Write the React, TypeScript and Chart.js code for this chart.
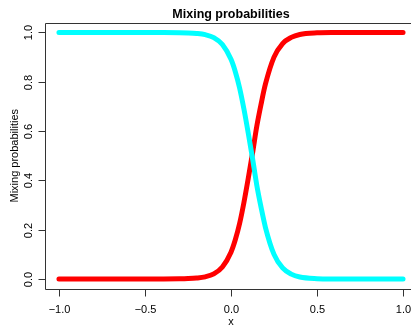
import React, { useEffect, useRef } from "react";
import { Chart, registerables } from "chart.js";

Chart.register(...registerables);

const xs = [-1, -0.8, -0.6, -0.5, -0.4, -0.3, -0.25, -0.2, -0.15, -0.1, -0.05, 0, 0.025, 0.05, 0.075, 0.1, 0.125, 0.15, 0.175, 0.2, 0.25, 0.3, 0.35, 0.4, 0.5, 0.6, 0.8, 1.0];
const redValues = [0, 0, 0, 0, 0.0001, 0.0007, 0.0017, 0.004, 0.009, 0.021, 0.049, 0.109, 0.159, 0.225, 0.31, 0.407, 0.51, 0.62, 0.71, 0.79, 0.9, 0.955, 0.98, 0.992, 0.9985, 0.9997, 1, 1];
const cyanValues = [1, 1, 1, 1, 0.9999, 0.9993, 0.9983, 0.996, 0.991, 0.979, 0.951, 0.891, 0.841, 0.775, 0.69, 0.593, 0.49, 0.38, 0.29, 0.21, 0.1, 0.045, 0.02, 0.008, 0.0015, 0.0003, 0, 0];
const xTicks = [-1, -0.5, 0, 0.5, 1];
const xTickLabels = ["\u22121.0", "\u22120.5", "0.0", "0.5", "1.0"];
const yTicks = [0, 0.2, 0.4, 0.6, 0.8, 1];
const yTickLabels = ["0.0", "0.2", "0.4", "0.6", "0.8", "1.0"];
const title = "Mixing probabilities";
const xLabel = "x";
const yLabel = "Mixing probabilities";

const FONT = "'Liberation Sans', Arial, Helvetica, sans-serif";

const rAxesPlugin = {
  id: "rAxes",
  afterDraw(chart: any) {
    const ctx = chart.ctx;
    const { left, top, right, bottom } = chart.chartArea;
    const xs_ = chart.scales.x;
    const ys_ = chart.scales.y;
    ctx.save();
    ctx.strokeStyle = "#333";
    ctx.lineWidth = 1;
    // frame
    const L = Math.round(left) + 0.5;
    const T = Math.round(top) + 0.5;
    const B = Math.round(bottom) + 0.5;
    const R = Math.round(right) + 0.5;
    ctx.beginPath();
    ctx.moveTo(R, T);
    ctx.lineTo(L, T);
    ctx.lineTo(L, B);
    ctx.lineTo(R, B);
    ctx.lineTo(R, T);
    ctx.stroke();
    // x ticks
    ctx.fillStyle = "#000";
    ctx.font = `11px ${FONT}`;
    ctx.textAlign = "center";
    ctx.textBaseline = "middle";
    xTicks.forEach((v, i) => {
      const px = Math.round(xs_.getPixelForValue(v)) + 0.5;
      ctx.beginPath();
      ctx.moveTo(px, B);
      ctx.lineTo(px, B + 7);
      ctx.stroke();
      ctx.fillText(xTickLabels[i], px, 310);
    });
    // y ticks
    yTicks.forEach((v, i) => {
      const py = Math.round(ys_.getPixelForValue(v)) + 0.5;
      ctx.beginPath();
      ctx.moveTo(L, py);
      ctx.lineTo(L - 7, py);
      ctx.stroke();
      ctx.save();
      ctx.translate(29, py);
      ctx.rotate(-Math.PI / 2);
      ctx.fillText(yTickLabels[i], 0, 0);
      ctx.restore();
    });
    // axis labels
    ctx.fillText(xLabel, (left + right) / 2, 322);
    ctx.save();
    ctx.translate(15, (top + bottom) / 2);
    ctx.rotate(-Math.PI / 2);
    ctx.fillText(yLabel, 0, 0);
    ctx.restore();
    // title
    ctx.font = `bold 12.5px ${FONT}`;
    ctx.textBaseline = "alphabetic";
    ctx.fillText(title, (left + right) / 2, 18);
    ctx.restore();
  },
};

export default function App() {
  const ref = useRef<HTMLCanvasElement | null>(null);
  useEffect(() => {
    if (!ref.current) return;
    const chart = new Chart(ref.current, {
      type: "line",
      data: {
        datasets: [
          {
            label: "cyan",
            data: xs.map((x, i) => ({ x, y: cyanValues[i] })),
            borderColor: "#00FFFF",
            borderWidth: 5,
            borderCapStyle: "round",
            borderJoinStyle: "round",
            pointRadius: 0,
            cubicInterpolationMode: "monotone",
            fill: false,
          },
          {
            label: "red",
            data: xs.map((x, i) => ({ x, y: redValues[i] })),
            borderColor: "#FF0000",
            borderWidth: 5,
            borderCapStyle: "round",
            borderJoinStyle: "round",
            pointRadius: 0,
            cubicInterpolationMode: "monotone",
            fill: false,
          },
        ],
      },
      options: {
        animation: false,
        responsive: false,
        devicePixelRatio: 1,
        layout: { padding: { left: 45.2, right: 13.2, top: 22.6, bottom: 37.1 } },
        plugins: { legend: { display: false }, tooltip: { enabled: false }, title: { display: false } },
        scales: {
          x: { type: "linear", min: -1.08, max: 1.08, display: false },
          y: { type: "linear", min: -0.04, max: 1.04, display: false },
        },
      },
      plugins: [rAxesPlugin],
    });
    return () => chart.destroy();
  }, []);
  return (
    <div style={{ position: "fixed", left: 0, top: 0, width: 411, height: 326, overflow: "hidden", background: "#fff" }}>
      <canvas ref={ref} width={430} height={326} style={{ width: 430, height: 326, display: "block" }} />
    </div>
  );
}
